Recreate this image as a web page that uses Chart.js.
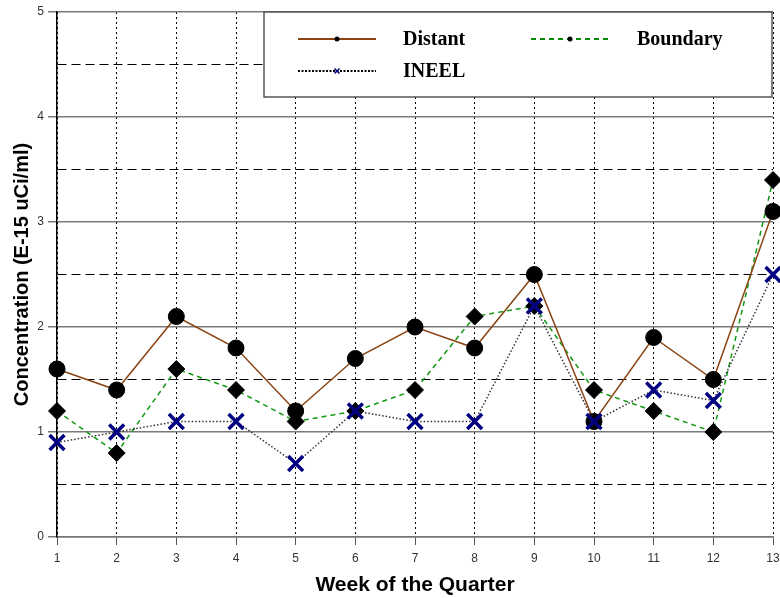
<!DOCTYPE html>
<html>
<head>
<meta charset="utf-8">
<script src="https://cdn.jsdelivr.net/npm/chart.js@4.4.1/dist/chart.umd.min.js"></script>
<style>
  html, body { margin: 0; padding: 0; background: #fff; }
  #wrap { width: 780px; height: 598px; }
</style>
</head>
<body>
<div id="wrap"><canvas id="chart" width="780" height="598"></canvas></div>
<script>
// weeks of the quarter
const weeks = ['1', '2', '3', '4', '5', '6', '7', '8', '9', '10', '11', '12', '13'];

// concentrations, E-15 uCi/ml
const distant  = [1.6, 1.4, 2.1, 1.8, 1.2, 1.7, 2.0, 1.8, 2.5, 1.1, 1.9, 1.5, 3.1];
const boundary = [1.2, 0.8, 1.6, 1.4, 1.1, 1.2, 1.4, 2.1, 2.2, 1.4, 1.2, 1.0, 3.4];
const ineel    = [0.9, 1.0, 1.1, 1.1, 0.7, 1.2, 1.1, 1.1, 2.2, 1.1, 1.4, 1.3, 2.5];

const yMin = 0, yMax = 5, yStep = 0.5;

const isWhole = v => Math.abs(v - Math.round(v)) < 1e-6;

// big markers would otherwise push the plot area inwards
Chart.LineController.prototype.getMaxOverflow = () => 0;

// legend box drawn by hand, the way the original plot had it
const legendBox = {
  id: 'legendBox',
  afterDraw(chart) {
    const c = chart.ctx;
    c.save();
    c.fillStyle = '#fff';
    c.fillRect(264, 12, 508, 85);
    c.strokeStyle = '#555';
    c.lineWidth = 1.5;
    c.strokeRect(264, 12, 508, 85);

    const items = [
      { x: 298, y: 39, label: 'Distant', color: '#8B4513', dash: [], width: 2, mark: 'dot' },
      { x: 531, y: 39, label: 'Boundary', color: '#008800', dash: [5, 4], width: 2, mark: 'dot' },
      { x: 298, y: 71, label: 'INEEL', color: '#000', dash: [2, 1.5], width: 2, mark: 'x' }
    ];
    c.font = 'bold 20px "Liberation Serif", serif';
    c.textBaseline = 'middle';
    items.forEach(it => {
      c.setLineDash(it.dash);
      c.strokeStyle = it.color;
      c.lineWidth = it.width;
      c.beginPath();
      c.moveTo(it.x, it.y);
      c.lineTo(it.x + 78, it.y);
      c.stroke();
      c.setLineDash([]);
      const mx = it.x + 39;
      if (it.mark === 'dot') {
        c.fillStyle = '#000';
        c.beginPath();
        c.arc(mx, it.y, 2.5, 0, Math.PI * 2);
        c.fill();
      } else {
        c.strokeStyle = '#000080';
        c.lineWidth = 1.5;
        c.beginPath();
        c.moveTo(mx - 2.5, it.y - 2.5); c.lineTo(mx + 2.5, it.y + 2.5);
        c.moveTo(mx + 2.5, it.y - 2.5); c.lineTo(mx - 2.5, it.y + 2.5);
        c.stroke();
      }
      c.fillStyle = '#000';
      c.fillText(it.label, it.x + (it.label === 'Boundary' ? 106 : 105), it.y + 1);
    });
    c.restore();
  }
};

new Chart(document.getElementById('chart'), {
  type: 'line',
  data: {
    labels: weeks,
    datasets: [
      {
        label: 'INEEL',
        data: ineel,
        clip: false,
        borderColor: '#333',
        borderWidth: 1.5,
        borderDash: [1.5, 2],
        pointStyle: 'crossRot',
        pointRadius: 10.5,
        pointBorderWidth: 3.5,
        pointBorderColor: '#000080',
        pointBackgroundColor: '#000080',
        tension: 0
      },
      {
        label: 'Distant',
        data: distant,
        clip: false,
        borderColor: '#8B4513',
        borderWidth: 1.5,
        pointStyle: 'circle',
        pointRadius: 8,
        pointBorderWidth: 1,
        pointBorderColor: '#000',
        pointBackgroundColor: '#000',
        tension: 0
      },
      {
        label: 'Boundary',
        data: boundary,
        clip: false,
        borderColor: '#119911',
        borderWidth: 1.5,
        borderDash: [5, 4],
        pointStyle: 'rectRot',
        pointRadius: 8.5,
        pointBorderWidth: 1,
        pointBorderColor: '#000',
        pointBackgroundColor: '#000',
        tension: 0
      }
    ]
  },
  options: {
    responsive: false,
    animation: false,
    layout: { padding: { top: 12, right: 0, left: 0, bottom: 0 } },
    plugins: {
      legend: { display: false },
      tooltip: { enabled: false }
    },
    scales: {
      x: {
        offset: false,
        afterFit: s => { s.height = 61; s.paddingRight = 7; s.paddingLeft = 0; },
        grid: {
          color: '#000',
          lineWidth: 1,
          tickColor: '#555',
          tickLength: 8,
          tickBorderDash: []
        },
        border: {
          color: '#777',
          width: 1.5,
          dash: ctx => ctx.type === 'tick' ? [2, 3] : []
        },
        ticks: {
          color: '#333',
          font: { family: '"Liberation Sans", Arial, sans-serif', size: 12 },
          padding: 6,
          maxRotation: 0,
          autoSkip: false
        },
        title: {
          display: true,
          text: 'Week of the Quarter',
          color: '#000',
          font: { family: '"Liberation Sans", Arial, sans-serif', size: 21, weight: 'bold' },
          padding: { top: 0, bottom: 0 }
        }
      },
      y: {
        min: yMin,
        max: yMax,
        afterFit: s => { s.width = 57; },
        grid: {
          color: ctx => isWhole(ctx.tick.value) ? '#7a7a7a' : '#000',
          lineWidth: ctx => isWhole(ctx.tick.value) ? 1.5 : 1,
          tickColor: ctx => isWhole(ctx.tick.value) ? '#777' : 'rgba(0,0,0,0)',
          tickLength: 9,
          tickBorderDash: []
        },
        border: {
          color: '#000',
          width: 1.5,
          dash: ctx => (ctx.type === 'tick' && !isWhole(ctx.tick.value)) ? [9, 5] : []
        },
        ticks: {
          stepSize: yStep,
          color: '#333',
          font: { family: '"Liberation Sans", Arial, sans-serif', size: 12 },
          padding: 4,
          callback: v => isWhole(v) ? String(Math.round(v)) : ''
        },
        title: {
          display: true,
          text: 'Concentration (E-15 uCi/ml)',
          color: '#000',
          font: { family: '"Liberation Sans", Arial, sans-serif', size: 20, weight: 'bold' },
          padding: { top: 10, bottom: 0 }
        }
      }
    }
  },
  plugins: [legendBox]
});
</script>
</body>
</html>
